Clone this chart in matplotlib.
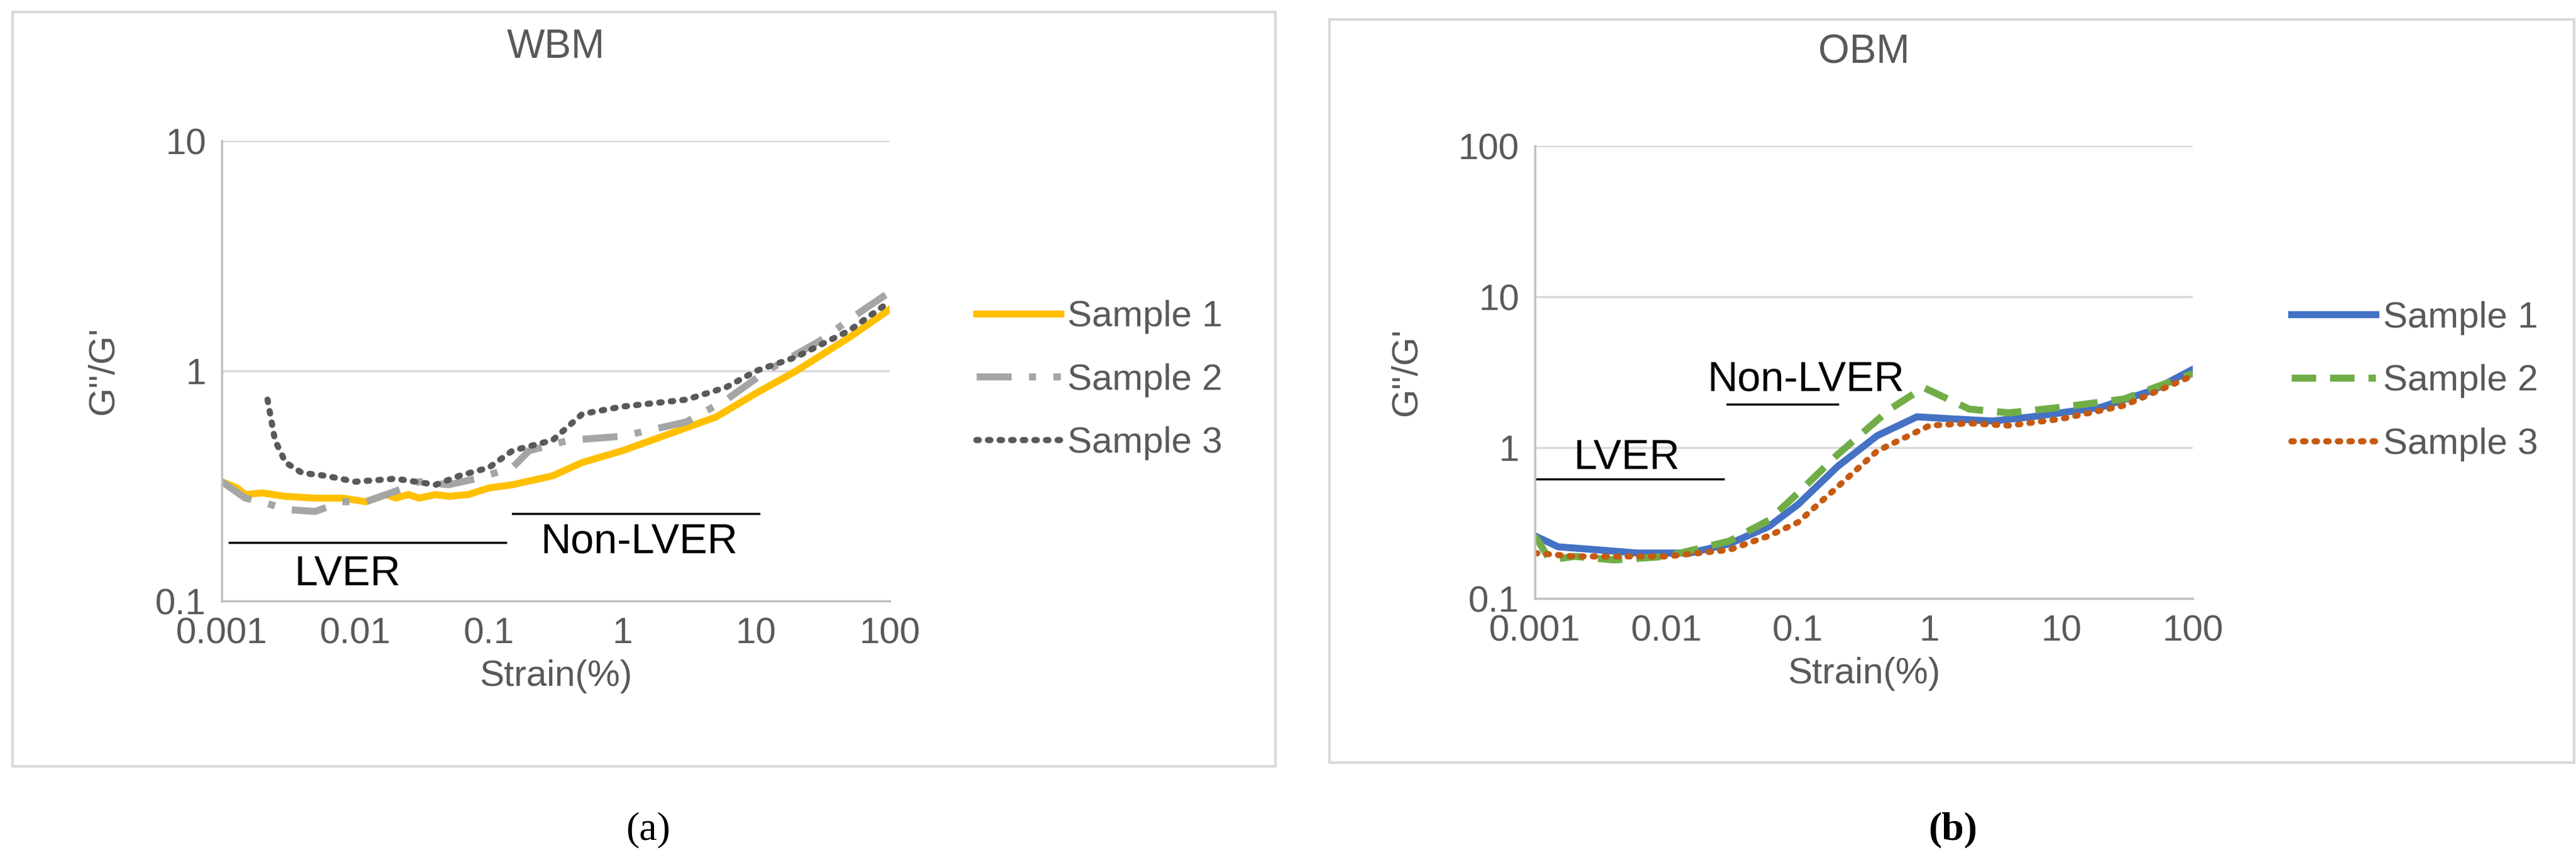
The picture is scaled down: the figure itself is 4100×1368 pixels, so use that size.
import matplotlib
matplotlib.use("Agg")
import matplotlib.pyplot as plt
from matplotlib.patches import Rectangle

plt.rcParams['font.family'] = ['Liberation Sans', 'DejaVu Sans']

# WBM data
w1_x = [0.001,0.0013,0.0015,0.002,0.003,0.005,0.008,0.012,0.017,0.02,0.025,0.03,0.04,0.05,0.07,0.1,0.15,0.3,0.5,1,2,5,10,20,50,100]
w1_y = [0.33,0.31,0.29,0.295,0.285,0.28,0.28,0.27,0.29,0.28,0.29,0.28,0.29,0.285,0.29,0.31,0.32,0.35,0.40,0.45,0.52,0.63,0.80,1.0,1.4,1.85]
w2_x = [0.001,0.0015,0.002,0.003,0.005,0.008,0.012,0.02,0.03,0.05,0.08,0.15,0.2,0.4,1,3,6,12,30,60,100]
w2_y = [0.33,0.28,0.27,0.25,0.245,0.27,0.27,0.30,0.33,0.32,0.34,0.38,0.45,0.50,0.52,0.60,0.75,1.0,1.35,1.8,2.2]
w3_x = [0.0022,0.0025,0.003,0.004,0.006,0.01,0.02,0.04,0.06,0.1,0.15,0.3,0.5,1,3,6,10,20,50,100]
w3_y = [0.75,0.5,0.4,0.36,0.35,0.33,0.34,0.32,0.35,0.38,0.45,0.50,0.65,0.70,0.75,0.85,1.0,1.15,1.5,2.0]
# OBM data
o1_x = [0.001,0.0015,0.003,0.006,0.015,0.03,0.06,0.1,0.2,0.4,0.8,1.5,3,6,20,50,100]
o1_y = [0.26,0.22,0.21,0.20,0.20,0.23,0.30,0.42,0.75,1.2,1.6,1.55,1.5,1.6,1.85,2.4,3.3]
o2_x = [0.001,0.0013,0.002,0.004,0.01,0.03,0.06,0.1,0.2,0.5,0.9,2,4,10,30,100]
o2_y = [0.26,0.18,0.19,0.18,0.19,0.24,0.33,0.50,0.90,1.8,2.5,1.8,1.7,1.85,2.1,3.1]
o3_x = [0.001,0.002,0.005,0.01,0.03,0.06,0.1,0.2,0.4,1,2,4,10,30,100]
o3_y = [0.20,0.19,0.19,0.19,0.21,0.26,0.32,0.55,0.95,1.4,1.45,1.4,1.55,1.9,3.0]

labels = ["Sample 1", "Sample 2", "Sample 3"]
xticks = [0.001, 0.01, 0.1, 1, 10, 100]
xticklabels = ["0.001", "0.01", "0.1", "1", "10", "100"]

W, H = 4100, 1368
fig = plt.figure(figsize=(41, 13.68), dpi=100)
grey = "#595959"

def fr(x0, y0, x1, y1):
    return [x0/W, 1-y1/H, (x1-x0)/W, (y1-y0)/H]

for bx in [(20,19,2030,1219),(2116,31,4097,1213)]:
    fig.patches.append(Rectangle((bx[0]/W, 1-bx[3]/H), (bx[2]-bx[0])/W, (bx[3]-bx[1])/H,
                                 transform=fig.transFigure, fill=False, ec="#d9d9d9", lw=3))

def setup(ax, yticks, yl, title):
    ax.set_xscale('log'); ax.set_yscale('log')
    ax.set_xlim(0.001, 100); ax.set_ylim(*yl)
    ax.set_xticks(xticks); ax.set_xticklabels(xticklabels)
    ax.set_yticks(yticks); ax.set_yticklabels([("%g" % t) for t in yticks])
    ax.minorticks_off()
    ax.tick_params(length=0, labelsize=42, colors=grey, pad=18)
    for s in ['top','right']:
        ax.spines[s].set_visible(False)
    for s in ['left','bottom']:
        ax.spines[s].set_color("#bfbfbf"); ax.spines[s].set_linewidth(2.5)
    ax.grid(axis='y', color="#d9d9d9", lw=2.5)
    ax.set_axisbelow(True)
    ax.set_xlabel("Strain(%)", fontsize=42, color=grey, labelpad=10)
    ax.set_ylabel("G''/G'", fontsize=42, color=grey, labelpad=40)
    ax.set_title(title, fontsize=46, color=grey, pad=95)

# Left
ax1 = fig.add_axes(fr(353,224,1416,956))
setup(ax1, [0.1, 1, 10], (0.1, 10), "WBM")
ax1.plot(w1_x, w1_y, color="#FFC000", lw=8, label=labels[0])
ax1.plot(w2_x, w2_y, color="#A5A5A5", lw=8, dashes=(5, 2.5, 1, 2.5), label=labels[1])
ax1.plot(w3_x, w3_y, color="#595959", lw=7, ls=(0, (0.4, 1.5)), dash_capstyle='round', label=labels[2])
ax1.plot([0.00114, 0.133], [0.18, 0.18], color="black", lw=2.5)
ax1.plot([0.15, 10.5], [0.24, 0.24], color="black", lw=2.5)
ax1.text(0.0087, 0.13, "LVER", fontsize=48, ha='center', va='center')
ax1.text(1.33, 0.18, "Non-LVER", fontsize=48, ha='center', va='center')
ax1.legend(loc='center left', bbox_to_anchor=(1.08, 0.48), frameon=False, fontsize=42,
           labelcolor=grey, handlelength=2.3, handletextpad=0.2, labelspacing=0.8)
fig.text(1032/W, 1-1320/H, "(a)", fontsize=46, ha='center', va='center', family='Liberation Serif')

# Right
ax2 = fig.add_axes(fr(2443,232,3490,952))
setup(ax2, [0.1, 1, 10, 100], (0.1, 100), "OBM")
ax2.plot(o1_x, o1_y, color="#4472C4", lw=8, label=labels[0])
ax2.plot(o2_x, o2_y, color="#70AD47", lw=8, dashes=(3.5, 2), label=labels[1])
ax2.plot(o3_x, o3_y, color="#C55A11", lw=7, ls=(0, (0.4, 1.5)), dash_capstyle='round', label=labels[2])
ax2.plot([0.00103, 0.027], [0.62, 0.62], color="black", lw=2.5)
ax2.plot([0.029, 0.2], [1.93, 1.93], color="black", lw=2.5)
ax2.text(0.005, 0.85, "LVER", fontsize=48, ha='center', va='center')
ax2.text(0.115, 2.8, "Non-LVER", fontsize=48, ha='center', va='center')
ax2.legend(loc='center left', bbox_to_anchor=(1.1, 0.48), frameon=False, fontsize=42,
           labelcolor=grey, handlelength=2.3, handletextpad=0.2, labelspacing=0.8)
fig.text(3108/W, 1-1320/H, "(b)", fontsize=46, ha='center', va='center', family='Liberation Serif', weight='bold')

fig.savefig("out.png", dpi=100)
